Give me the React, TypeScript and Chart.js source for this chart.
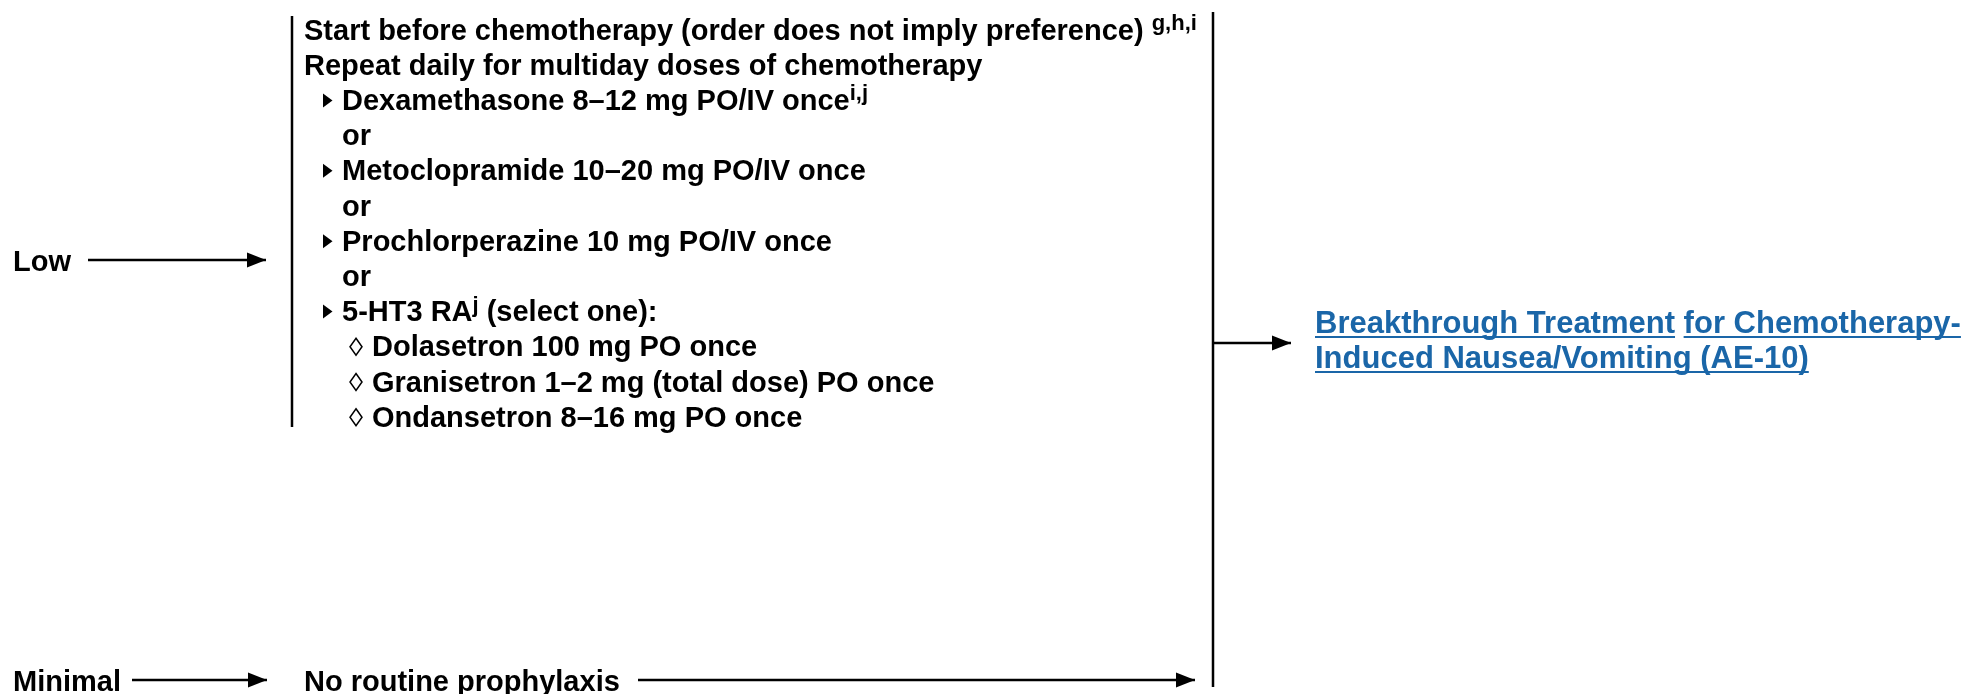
import React, { useEffect, useRef } from "react";
import { Chart, registerables } from "chart.js";

Chart.register(...registerables);

// ---------- content ----------
const riskLevels = ["Low", "Minimal"];
const introLines = [
  "Start before chemotherapy (order does not imply preference) ",
  "Repeat daily for multiday doses of chemotherapy",
];
const introNotes = ["g,h,i", ""];
const lowOptions = [
  "Dexamethasone 8–12 mg PO/IV once",
  "Metoclopramide 10–20 mg PO/IV once",
  "Prochlorperazine 10 mg PO/IV once",
  "5-HT3 RA",
];
const optionNotes = ["i,j", "", "", "j"];
const optionSuffix = ["", "", "", " (select one):"];
const orWord = "or";
const ht3Agents = [
  "Dolasetron 100 mg PO once",
  "Granisetron 1–2 mg (total dose) PO once",
  "Ondansetron 8–16 mg PO once",
];
const minimalText = "No routine prophylaxis";
const linkLine1 = ["Breakthrough Treatment", " ", "for Chemotherapy-"];
const linkLine2 = ["Induced Nausea/Vomiting (AE-10)"];

// ---------- layout (style, not data) ----------
const W = 1965;
const H = 694;
const FONT = "'Liberation Sans', Arial, Helvetica, sans-serif";
const MAIN = `bold 29px ${FONT}`;
const SUP = `bold 22px ${FONT}`;
const LINKFONT = `bold 31px ${FONT}`;
const LINK = "#1a66a8";
const ROW0 = 29;
const ROWSTEP = 35.2;
const BASE_OFF = 10.5;
const SUP_RAISE = 9.5;
const X_LEVEL0 = 304;
const X_BULLET = 323;
const X_LEVEL1 = 342;
const X_DIAMOND = 356;
const X_LEVEL2 = 372;
const X_RISK = 13;
const LOW_Y = 260;
const MIN_Y = 680;
const LINK_X = 1315;
const LINK_BASE1 = 333;
const LINK_BASE2 = 368;

// connectors: [x0, y0, x1, y1, arrow]
const connectors: [number, number, number, number, boolean][] = [
  [88, LOW_Y, 266, LOW_Y, true],
  [132, MIN_Y, 267, MIN_Y, true],
  [638, MIN_Y, 1195, MIN_Y, true],
  [1213, 343, 1291, 343, true],
  [292, 16, 292, 427, false],
  [1213, 12, 1213, 687, false],
];

type Run = { t: string; sup?: boolean };
type Row = { level: number; bullet?: "tri" | "dia"; runs: Run[] };

function buildRows(): Row[] {
  const rows: Row[] = [];
  introLines.forEach((t, i) => {
    const runs: Run[] = [{ t }];
    if (introNotes[i]) runs.push({ t: introNotes[i], sup: true });
    rows.push({ level: 0, runs });
  });
  lowOptions.forEach((t, i) => {
    const runs: Run[] = [{ t }];
    if (optionNotes[i]) runs.push({ t: optionNotes[i], sup: true });
    if (optionSuffix[i]) runs.push({ t: optionSuffix[i] });
    rows.push({ level: 1, bullet: "tri", runs });
    if (i < lowOptions.length - 1) rows.push({ level: 1, runs: [{ t: orWord }] });
  });
  ht3Agents.forEach((t) => rows.push({ level: 2, bullet: "dia", runs: [{ t }] }));
  return rows;
}

const flowPlugin = {
  id: "flowText",
  afterDatasetsDraw(chart: any) {
    const ctx: CanvasRenderingContext2D = chart.ctx;
    const xs = chart.scales.x;
    const ys = chart.scales.y;
    const px = (v: number) => xs.getPixelForValue(v);
    const py = (v: number) => ys.getPixelForValue(v);
    ctx.save();

    // arrowheads at the end of connectors
    chart.data.datasets.forEach((ds: any, i: number) => {
      if (!ds.arrow) return;
      const pts = chart.getDatasetMeta(i).data;
      const a = pts[pts.length - 2];
      const b = pts[pts.length - 1];
      const ang = Math.atan2(b.y - a.y, b.x - a.x);
      ctx.save();
      ctx.translate(b.x, b.y);
      ctx.rotate(ang);
      ctx.beginPath();
      ctx.moveTo(0, 0);
      ctx.lineTo(-19, -7.5);
      ctx.lineTo(-19, 7.5);
      ctx.closePath();
      ctx.fillStyle = "#000";
      ctx.fill();
      ctx.restore();
    });

    const drawRuns = (runs: Run[], x0: number, base: number, color: string) => {
      let x = px(x0);
      const yb = py(base);
      ctx.fillStyle = color;
      ctx.textBaseline = "alphabetic";
      ctx.textAlign = "left";
      runs.forEach((r) => {
        ctx.font = r.sup ? SUP : MAIN;
        ctx.fillText(r.t, x, r.sup ? yb - SUP_RAISE : yb);
        x += ctx.measureText(r.t).width;
      });
    };

    // risk labels
    drawRuns([{ t: riskLevels[0] }], X_RISK, LOW_Y + BASE_OFF, "#000");
    drawRuns([{ t: riskLevels[1] }], X_RISK, MIN_Y + BASE_OFF, "#000");
    drawRuns([{ t: minimalText }], X_LEVEL0, MIN_Y + BASE_OFF, "#000");

    // low-risk list
    buildRows().forEach((row, i) => {
      const c = ROW0 + ROWSTEP * i;
      const xText = row.level === 0 ? X_LEVEL0 : row.level === 1 ? X_LEVEL1 : X_LEVEL2;
      if (row.bullet === "tri") {
        const bx = px(X_BULLET);
        const by = py(c + 1);
        ctx.beginPath();
        ctx.moveTo(bx, by - 7);
        ctx.lineTo(bx + 9.5, by);
        ctx.lineTo(bx, by + 7);
        ctx.closePath();
        ctx.fillStyle = "#000";
        ctx.fill();
      } else if (row.bullet === "dia") {
        const bx = px(X_DIAMOND);
        const by = py(c + 1);
        ctx.beginPath();
        ctx.moveTo(bx, by - 8.5);
        ctx.lineTo(bx + 6, by);
        ctx.lineTo(bx, by + 8.5);
        ctx.lineTo(bx - 6, by);
        ctx.closePath();
        ctx.lineWidth = 1.5;
        ctx.strokeStyle = "#000";
        ctx.stroke();
      }
      drawRuns(row.runs, xText, c + BASE_OFF, "#000");
    });

    // link text with underlines
    const drawLink = (parts: string[], x0: number, base: number) => {
      let x = px(x0);
      const yb = py(base);
      ctx.font = LINKFONT;
      ctx.fillStyle = LINK;
      ctx.strokeStyle = LINK;
      ctx.lineWidth = 2;
      ctx.textBaseline = "alphabetic";
      parts.forEach((p) => {
        ctx.fillText(p, x, yb);
        const w = ctx.measureText(p).width;
        if (p.trim()) {
          ctx.beginPath();
          ctx.moveTo(x, yb + 4);
          ctx.lineTo(x + w, yb + 4);
          ctx.stroke();
        }
        x += w;
      });
    };
    drawLink(linkLine1, LINK_X, LINK_BASE1);
    drawLink(linkLine2, LINK_X, LINK_BASE2);

    ctx.restore();
  },
};

export default function App() {
  const ref = useRef<HTMLCanvasElement | null>(null);
  useEffect(() => {
    if (!ref.current) return;
    const chart = new Chart(ref.current, {
      type: "scatter",
      data: {
        datasets: connectors.map(([x0, y0, x1, y1, arrow]) => ({
          type: "line" as const,
          data: [
            { x: x0, y: y0 },
            { x: x1, y: y1 },
          ],
          borderColor: "#000",
          borderWidth: 2.5,
          pointRadius: 0,
          showLine: true,
          fill: false,
          clip: false as any,
          arrow,
        })) as any,
      },
      options: {
        animation: false,
        responsive: false,
        maintainAspectRatio: false,
        events: [],
        layout: { padding: 0 },
        plugins: { legend: { display: false }, tooltip: { enabled: false } },
        scales: {
          x: { type: "linear", min: 0, max: W, display: false },
          y: { type: "linear", min: 0, max: H, reverse: true, display: false },
        },
      },
      plugins: [flowPlugin],
    });
    return () => chart.destroy();
  }, []);
  return (
    <div style={{ position: "fixed", left: 0, top: 0, width: W, height: H, background: "#fff" }}>
      <canvas ref={ref} width={W} height={H} style={{ display: "block", width: W, height: H }} />
    </div>
  );
}
